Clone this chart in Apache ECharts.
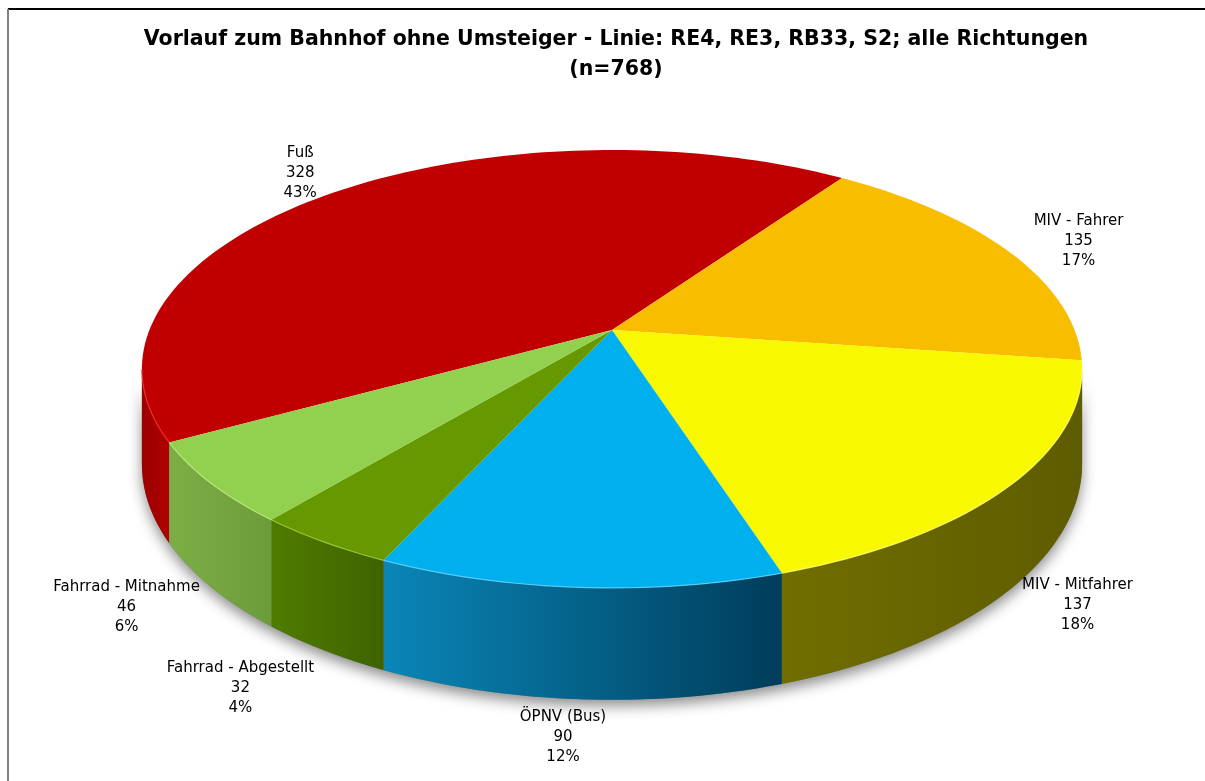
<!DOCTYPE html>
<html>
<head>
<meta charset="utf-8">
<script src="https://cdn.jsdelivr.net/npm/echarts@6/dist/echarts.min.js"></script>
<style>
  html, body { margin: 0; padding: 0; background: #fff; }
  #main { width: 1205px; height: 781px; }
</style>
</head>
<body>
<div id="main"></div>
<script>
// data
const categories = ['Fuß', 'MIV - Fahrer', 'MIV - Mitfahrer', 'ÖPNV (Bus)', 'Fahrrad - Abgestellt', 'Fahrrad - Mitnahme'];
const counts = [328, 135, 137, 90, 32, 46];
const percentLabels = ['43%', '17%', '18%', '12%', '4%', '6%'];

// colours: top face, wall left, wall right
const topColors = ['#C00000', '#F9BD00', '#F8F800', '#00B0EE', '#669900', '#92D050'];
const wallColors = [
  ['#9c0000', '#b00000'],
  ['#c89800', '#a07a00'],
  ['#706e00', '#5e5c00'],
  ['#0a86b8', '#003d5a'],
  ['#4f7c00', '#3e6300'],
  ['#7cae46', '#6c9c3a']
];
const rimColors = ['#ff3030', '#ffe070', '#ffff80', '#60d8ff', '#a8d040', '#c0f080'];

// label nudges (like manually placed labels in the original)
const labelNudge = [[-2, 0], [16, 1], [-3, -12], [-10, -14], [-31, -4], [-15, -8]];

// layout of the tilted pie
const CX = 612, CY = 330;      // apex of the slices
const A = 212, B = 462.6;      // vertical / horizontal radius
const P = 0.178;               // perspective factor
const DEPTH = 92;              // wall height
const START = 241;             // start angle of first slice, clockwise from 12 o'clock
const total = counts.reduce((a, b) => a + b, 0);
const PHI_R = Math.acos(-P) * 180 / Math.PI;
const PHI_L = 360 - PHI_R;

function pt(deg, k, dz) {
  const r = deg * Math.PI / 180;
  const u = k * Math.sin(r), v = -k * Math.cos(r);
  const s = 1 / (1 - P * v);
  return [CX + B * u * s, CY + (A * v + dz) * s];
}

function arc(a0, a1, k, dz) {
  const pts = [];
  const n = Math.max(2, Math.ceil(Math.abs(a1 - a0) / 1.5));
  for (let i = 0; i <= n; i++) pts.push(pt(a0 + (a1 - a0) * i / n, k, dz));
  return pts;
}

// visible front parts of an angle range
function frontParts(a0, a1) {
  const parts = [];
  [0, 360].forEach(function (off) {
    const s = Math.max(a0, PHI_R + off), e = Math.min(a1, PHI_L + off);
    if (e > s) parts.push([s, e]);
  });
  return parts;
}

function sliceRange(idx) {
  let acc = 0;
  for (let i = 0; i < idx; i++) acc += counts[i];
  const a0 = START + acc / total * 360;
  const a1 = a0 + counts[idx] / total * 360;
  return [a0, a1];
}

function wallPoly(s, e) {
  return arc(s, e, 1, 0).concat(arc(e, s, 1, DEPTH));
}

var myChart = echarts.init(document.getElementById('main'), null, { width: 1205, height: 781 });

let option = {
  animation: false,
  title: {
    text: 'Vorlauf zum Bahnhof ohne Umsteiger - Linie: RE4, RE3, RB33, S2; alle Richtungen\n(n=768)',
    left: 611,
    top: 20,
    textAlign: 'center',
    textStyle: {
      fontFamily: 'DejaVu Sans',
      fontWeight: 'bold',
      fontSize: 20.5,
      lineHeight: 30,
      color: '#000',
      align: 'center'
    }
  },
  graphic: [
    { type: 'line', shape: { x1: 8, y1: 9, x2: 1205, y2: 9 }, style: { stroke: '#000', lineWidth: 2 } },
    { type: 'line', shape: { x1: 8, y1: 9, x2: 8, y2: 781 }, style: { stroke: '#808080', lineWidth: 2 } }
  ],
  series: [
    {
      // soft shadow under the pie
      type: 'custom',
      coordinateSystem: 'none',
      silent: true,
      z: 1,
      data: [total],
      renderItem: function () {
        return {
          type: 'polygon',
          shape: { points: wallPoly(PHI_R, PHI_L) },
          style: {
            fill: '#777',
            shadowBlur: 14,
            shadowOffsetY: 6,
            shadowColor: 'rgba(0,0,0,0.45)'
          }
        };
      }
    },
    {
      type: 'custom',
      coordinateSystem: 'none',
      silent: true,
      z: 2,
      data: counts.map(function (v, i) { return { name: categories[i], value: v }; }),
      renderItem: function (params, api) {
        const i = params.dataIndex;
        const r = sliceRange(i);
        const children = [];
        frontParts(r[0], r[1]).forEach(function (p) {
          children.push({
            type: 'polygon',
            z2: 1,
            shape: { points: wallPoly(p[0], p[1]) },
            style: {
              fill: {
                type: 'linear', x: 0, y: 0, x2: 1, y2: 0,
                colorStops: [
                  { offset: 0, color: wallColors[i][0] },
                  { offset: 1, color: wallColors[i][1] }
                ]
              }
            }
          });
        });
        children.push({
          type: 'polygon',
          z2: 2,
          shape: { points: [[CX, CY]].concat(arc(r[0], r[1], 1, 0)) },
          style: { fill: topColors[i] }
        });
        frontParts(r[0], r[1]).forEach(function (p) {
          children.push({
            type: 'polyline',
            z2: 3,
            shape: { points: arc(p[0], p[1], 1, 0) },
            style: { stroke: rimColors[i], lineWidth: 1.2, fill: null, opacity: 0.8 }
          });
        });
        // label
        const mid = (r[0] + r[1]) / 2;
        const lp = pt(mid, 1.15, 0);
        const v = -Math.cos(mid * Math.PI / 180);
        let ly = lp[1];
        if (v > 0) ly += DEPTH / (1 - P * v * 1.15);
        children.push({
          type: 'text',
          z2: 4,
          x: lp[0] + labelNudge[i][0],
          y: ly + labelNudge[i][1],
          style: {
            text: categories[i] + '\n' + api.value(0) + '\n' + percentLabels[i],
            fontFamily: 'DejaVu Sans',
            fontSize: 15,
            lineHeight: 20,
            fill: '#000',
            align: 'center',
            verticalAlign: 'middle'
          }
        });
        return { type: 'group', children: children };
      }
    }
  ]
};

myChart.setOption(option);
</script>
</body>
</html>
